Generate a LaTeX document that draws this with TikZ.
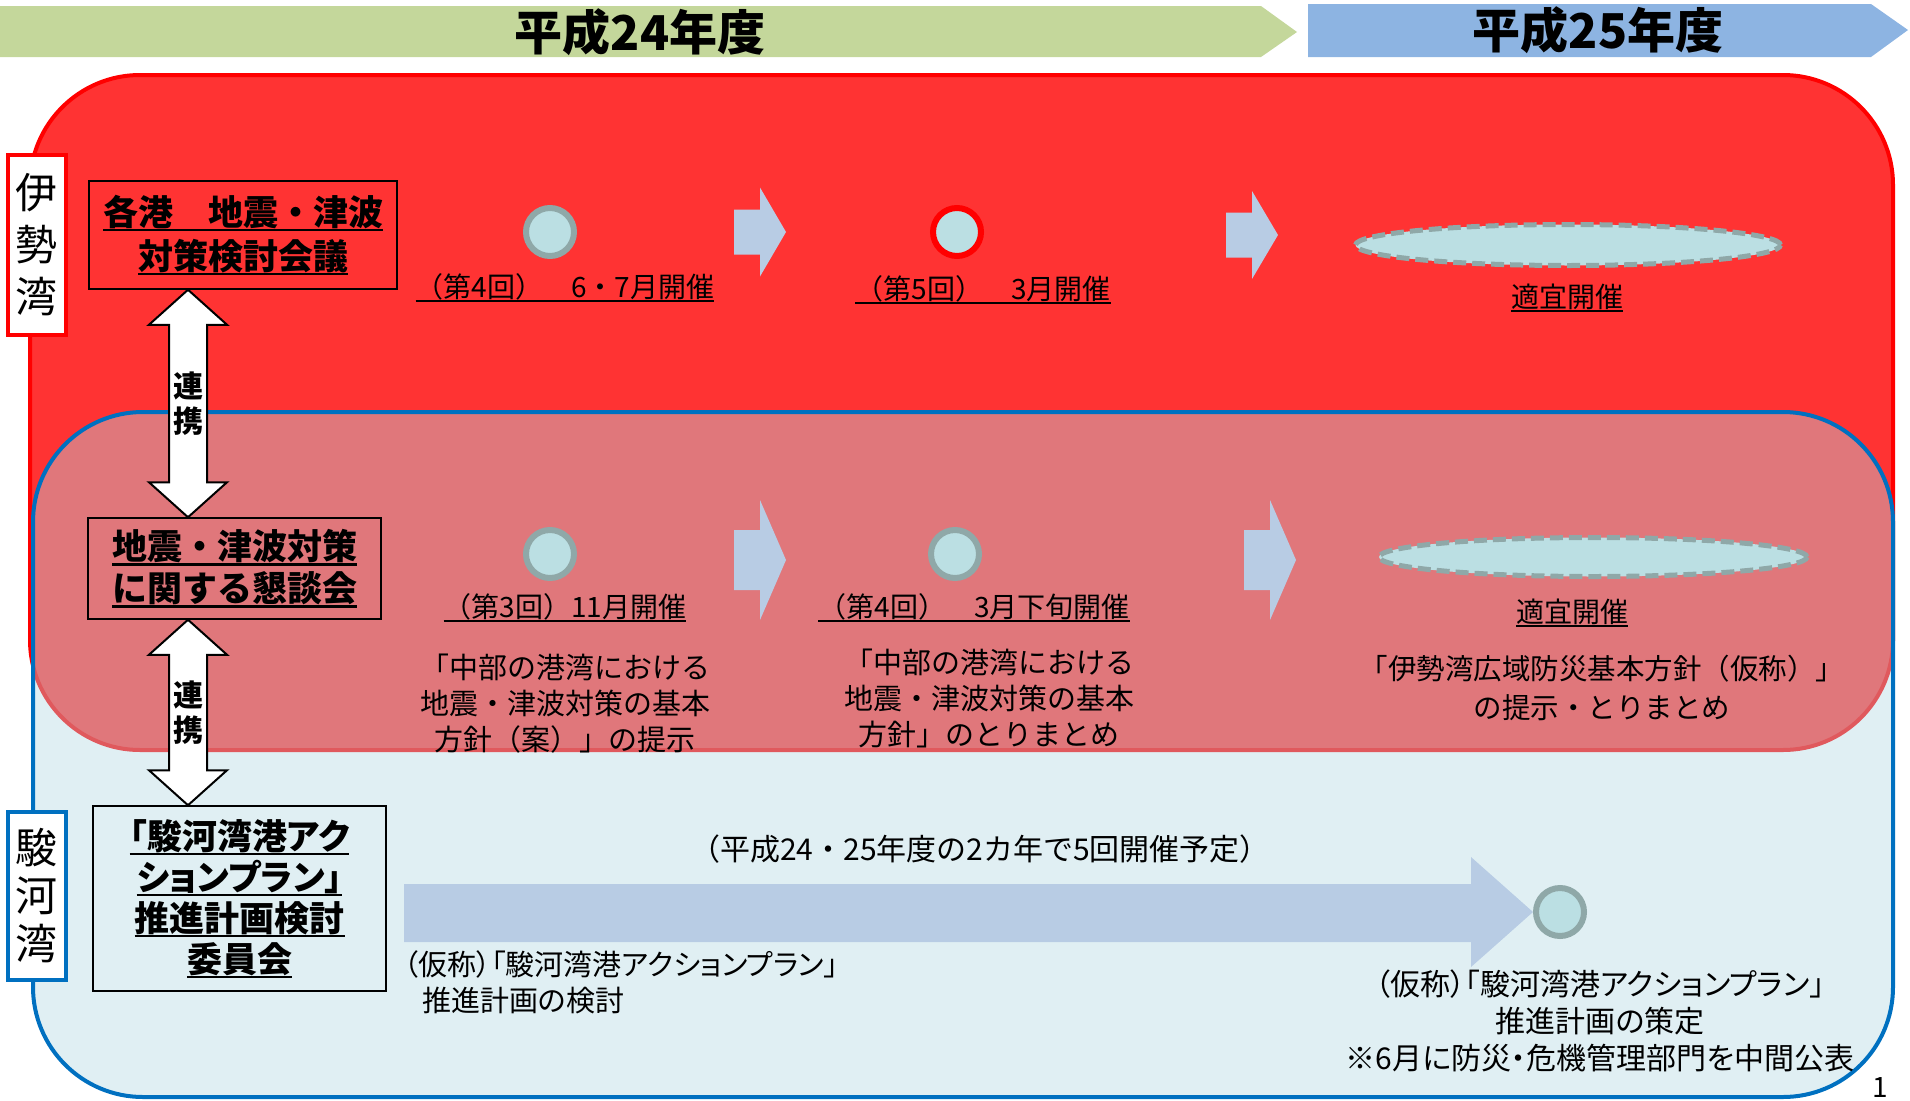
\documentclass[tikz,border=0pt]{standalone}
\usepackage{fontspec}
\setmainfont{Noto Sans CJK JP}
\newfontfamily\jpp[RawFeature=+palt]{Noto Sans CJK JP}
\usetikzlibrary{shapes.geometric, positioning, calc}

\definecolor{isered}{HTML}{FF3333}
\definecolor{suruga}{HTML}{0070C0}
\definecolor{surugafill}{RGB}{180,217,227}
\definecolor{mtgfill}{HTML}{BBDFE3}
\definecolor{mtgline}{HTML}{8FA8A8}
\definecolor{flowblue}{HTML}{B8CCE4}
\definecolor{y24}{HTML}{C4D79B}
\definecolor{y25}{HTML}{8DB4E2}

% underline that sits just under the glyphs
\newcommand{\ulin}[1]{\leavevmode\setbox0\hbox{#1}\copy0\kern-\wd0\rule[-0.17em]{\wd0}{0.07em}}

% block arrow between two steps: x, y, half shaft, half head
\newcommand{\flowarrow}[4]{\fill[flowarr] (#1,#2-#3) -- (#1+26,#2-#3) -- (#1+26,#2-#4) -- (#1+52,#2) -- (#1+26,#2+#4) -- (#1+26,#2+#3) -- (#1,#2+#3) -- cycle;}

% white two-headed arrow between two councils
\newcommand{\linkarrow}[4]{%
  \draw[linkarr] let \p1=(#1,0 |- #2.south), \p2=(#1,0 |- #3.north) in
    (\p1) -- ++(39pt,-35pt) -- ++(-20pt,0pt) -- (\x1+19pt,\y2+35pt) -- ++(20pt,0pt) -- (\p2)
    -- ++(-39pt,35pt) -- ++(20pt,0pt) -- (\x1-19pt,\y1-35pt) -- ++(-20pt,0pt) -- cycle
    (\x1,{(\y1+\y2)/2}) node[linktext] {#4};}

\tikzset{
  council/.style={draw, line width=1.5pt, align=center, inner sep=0pt, font=\bfseries\fontsize{35}{44}\selectfont},
  bay/.style={draw, fill=white, line width=4pt, minimum width=58pt, align=center, inner sep=0pt, font=\fontsize{42}{52}\selectfont},
  mtg/.style={circle, draw=mtgline, fill=mtgfill, line width=6pt, minimum size=48pt, inner sep=0pt},
  adhoc/.style={ellipse, draw=mtgline, fill=mtgfill, line width=5pt, dash pattern=on 13pt off 6pt, inner sep=0pt},
  when/.style={inner sep=0pt, font=\fontsize{28}{34}\selectfont},
  note/.style={align=center, inner sep=0pt, font=\fontsize{29}{36}\selectfont},
  flowarr/.style={fill=flowblue},
  linkarr/.style={draw, fill=white, line width=2pt},
  linktext/.style={align=center, inner sep=0pt, font=\bfseries\fontsize{30}{35}\selectfont},
  year/.style={inner sep=0pt, font=\bfseries\fontsize{48}{48}\selectfont},
}

\begin{document}
\begin{tikzpicture}[x=1pt, y=-1pt]
\useasboundingbox (0,0) rectangle (1910,1100);

% fiscal years
\fill[y24] (0,6) -- (1261,6) -- (1297,32) -- (1261,57) -- (0,57) -- cycle;
\fill[y25] (1308,4) -- (1871,4) -- (1908,30) -- (1871,57) -- (1308,57) -- cycle;
\node[year] (fy24) at (640,32) {平成24年度};
\node[year] (fy25) at (1598,30) {平成25年度};

% the two bays
\draw[draw=red, fill=isered, line width=4pt, rounded corners=110pt] (30,75) rectangle (1893,750);
\draw[draw=suruga, line width=4pt, rounded corners=110pt, fill=surugafill, fill opacity=0.41] (33,412) rectangle (1893,1097);

\node[bay, draw=red, minimum height=180pt] (ise) at (37,245) {伊\\勢\\湾};
\node[bay, draw=suruga, minimum height=168pt, font=\fontsize{42}{48}\selectfont] (sur) at (37,896) {駿\\河\\湾};

% councils
\node[council, minimum width=308pt, minimum height=108pt] (ports) at (243,235)
  {\ulin{各港　地震・津波}\\\ulin{対策検討会議}};
\node[council, minimum width=293pt, minimum height=101pt, font=\bfseries\fontsize{35}{42}\selectfont] (forum) at (234.5,568.5)
  {\ulin{地震・津波対策}\\\ulin{に関する懇談会}};
\node[council, minimum width=293pt, minimum height=185pt, font=\jpp\bfseries\fontsize{35}{41}\selectfont] (plan) at (239.5,898.5)
  {\ulin{「駿河湾港アク}\\\ulin{ションプラン」}\\\ulin{推進計画検討}\\\ulin{委員会}};

\linkarrow{188}{ports}{forum}{連\\携}
\linkarrow{188}{forum}{plan}{連\\携}

% Ise bay ports
\node[mtg] (p4) at (550,232) {};
\node[when] (p4t) at (565,288) {\ulin{（第4回）　6・7月開催}};
\flowarrow{734}{232}{22.5}{44.5}
\node[mtg, draw=red] (p5) at (957,232) {};
\node[when] (p5t) at (983,290) {\ulin{（第5回）　3月開催}};
\flowarrow{1226}{235}{22.5}{44}
\node[adhoc, minimum width=425pt, minimum height=41pt] (p25) at (1568,245) {};
\node[when] (p25t) at (1567,298) {\ulin{適宜開催}};

% forum
\node[mtg] (f3) at (550,554) {};
\node[when] (f3t) at (565,608) {\ulin{（第3回）11月開催}};
\node[note] (f3n) at (565,704) {「中部の港湾における\\地震・津波対策の基本\\方針（案）」の提示};
\flowarrow{734}{560}{30}{60}
\node[mtg] (f4) at (955,554) {};
\node[when] (f4t) at (974,608) {\ulin{（第4回）　3月下旬開催}};
\node[note] (f4n) at (989,698) {「中部の港湾における\\地震・津波対策の基本\\方針」のとりまとめ};
\flowarrow{1244}{560}{30}{60}
\node[adhoc, minimum width=428pt, minimum height=39pt] (f25) at (1593,557) {};
\node[when] (f25t) at (1572,613) {\ulin{適宜開催}};
\node[note, font=\fontsize{28.5}{39}\selectfont] (f25n) at (1602,688) {「伊勢湾広域防災基本方針（仮称）」\\の提示・とりまとめ};

% Suruga bay plan
\node[when, font=\fontsize{30}{34}\selectfont] (sched) at (980,849) {（平成24・25年度の2カ年で5回開催予定）};
\node[mtg] (c5) at (1560,912) {};
\fill[flowarr] (404,884) -- (1471,884) -- (1471,857) -- (c5.west) -- (1471,967) -- (1471,942) -- (404,942) -- cycle;
\node[note, align=left, anchor=west, font=\jpp\fontsize{29}{36}\selectfont] (study) at (404,982)
  {（仮称）「駿河湾港アクションプラン」\\\hspace*{18pt}推進計画の検討};
\node[note, font=\jpp\fontsize{30}{37}\selectfont] (fix) at (1600,1021)
  {（仮称）「駿河湾港アクションプラン」\\推進計画の策定\\※6月に防災・危機管理部門を中間公表};

\node[inner sep=0pt, font=\fontsize{28}{28}\selectfont] (page) at (1880,1088) {1};
\end{tikzpicture}
\end{document}
